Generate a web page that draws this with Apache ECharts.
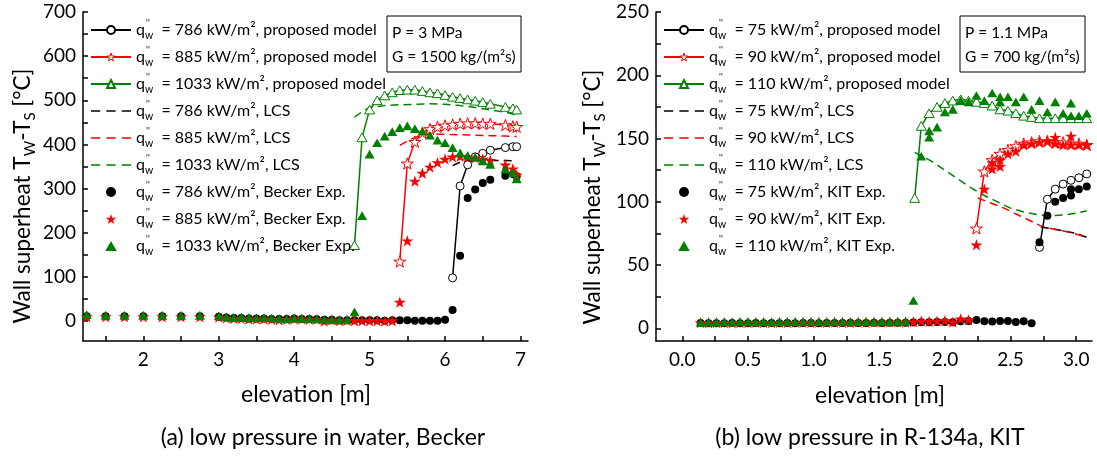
<!DOCTYPE html>
<html><head><meta charset="utf-8">
<script src="https://cdn.jsdelivr.net/npm/echarts@6/dist/echarts.min.js"></script>
<style>html,body{margin:0;padding:0;background:#fff}#c{width:1097px;height:458px}</style>
</head><body><div id="c"></div>
<script>
const FONT = 'Lato';

// ---------- (a) Becker, water, P = 3 MPa ----------
const beckerFlux = ['786', '885', '1033'];
const beckerModelX786 = [6.1, 6.2, 6.3, 6.4, 6.5, 6.6, 6.8, 6.9, 6.95];
const beckerModelY786 = [98, 306, 354, 372, 380, 387, 393, 395, 395];
const beckerModelX885 = [5.4, 5.5, 5.6, 5.7, 5.8, 5.9, 6.0, 6.1, 6.2, 6.3, 6.4, 6.5, 6.6, 6.8, 6.9, 6.95];
const beckerModelY885 = [135, 357, 406, 427, 435, 440, 443, 445, 447, 448, 448, 447, 447, 444, 441, 440];
const beckerModelX1033 = [4.8, 4.9, 5.0, 5.1, 5.2, 5.3, 5.4, 5.5, 5.6, 5.7, 5.8, 5.9, 6.0, 6.1, 6.2, 6.3, 6.4, 6.5, 6.6, 6.8, 6.9, 6.95];
const beckerModelY1033 = [172, 416, 479, 500, 511, 518, 523, 524, 524, 521, 518, 516, 512, 508, 505, 502, 499, 496, 492, 485, 482, 479];

const beckerLcsX786 = [6.1, 6.2, 6.3, 6.4, 6.6, 6.8, 6.95];
const beckerLcsY786 = [352, 360, 363, 364, 364, 364, 363];
const beckerLcsX885 = [5.4, 5.5, 5.6, 5.7, 5.8, 6.0, 6.2, 6.4, 6.6, 6.8, 6.95];
const beckerLcsY885 = [398, 408, 416, 421, 423, 423, 422, 421, 420, 419, 418];
const beckerLcsX1033 = [4.8, 4.9, 5.0, 5.2, 5.4, 5.6, 5.8, 6.0, 6.2, 6.4, 6.6, 6.8, 6.95];
const beckerLcsY1033 = [462, 474, 484, 488, 490, 491, 492, 491, 488, 484, 478, 473, 467];

const beckerExpX = [1.25, 1.5, 1.75, 2.0, 2.25, 2.5, 2.75,
  3.0, 3.1, 3.2, 3.3, 3.4, 3.5, 3.6, 3.7, 3.8, 3.9, 4.0, 4.1, 4.2, 4.3, 4.4, 4.5, 4.6, 4.7,
  4.8, 4.9, 5.0, 5.1, 5.2, 5.3, 5.4, 5.5, 5.6, 5.7, 5.8, 5.9, 6.0, 6.1, 6.2, 6.3, 6.4, 6.5, 6.6,
  6.8, 6.9, 6.95];
const beckerExpY786 = [11, 11, 11, 11, 11, 11, 11,
  10, 8, 7, 7, 6, 6, 6, 5, 5, 5, 6, 5, 5, 4, 3, 3, 2, 2,
  2, 2, 2, 2, 1, 2, 2, 2, 1, 1, 1, 1, 3, 25, 148, 279, 298, 313, 320,
  329, 333, 328];
const beckerExpY885 = [10, 10, 10, 10, 10, 10, 10,
  9, 7, 6, 6, 5, 5, 5, 4, 3, 4, 5, 5, 4, 4, 0, 3, 1, 2,
  1, 1, 1, 1, 0, 1, 43, 182, 317, 335, 349, 359, 367, 372, 373, 372, 370, 367, 364,
  354, 345, 331];
const beckerExpY1033 = [15, 13, 13, 13, 13, 13, 13,
  12, 10, 8, 9, 8, 7, 8, 7, 6, 5, 7, 6, 6, 5, 4, 3, 3, 3,
  21, 239, 378, 404, 419, 429, 438, 442, 436, 430, 421, 410, 404, 393, 381, 375, 371, 363, 355,
  344, 336, 322];

const beckerXTicks = [1.5, 2, 2.5, 3, 3.5, 4, 4.5, 5, 5.5, 6, 6.5, 7];
const beckerXLabels = [2, 3, 4, 5, 6, 7];
const beckerYTicks = [0, 50, 100, 150, 200, 250, 300, 350, 400, 450, 500, 550, 600, 650, 700];
const beckerYLabels = [0, 100, 200, 300, 400, 500, 600, 700];

// ---------- (b) KIT, R-134a, P = 1.1 MPa ----------
const kitFlux = ['75', '90', '110'];
const kitModelX75 = [2.72, 2.78, 2.84, 2.90, 2.96, 3.02, 3.08];
const kitModelY75 = [64, 102, 110, 114, 117, 119, 122];
const kitModelX90 = [2.24, 2.30, 2.36, 2.42, 2.48, 2.54, 2.60, 2.66, 2.72, 2.78, 2.84, 2.90, 2.96, 3.02, 3.08];
const kitModelY90 = [79, 124, 133, 138, 141, 144, 146, 147, 148, 148, 147, 147, 146, 146, 145];
const kitModelX110 = [1.77, 1.82, 1.88, 1.94, 2.00, 2.06, 2.12, 2.18, 2.24, 2.30, 2.36, 2.42, 2.48, 2.54, 2.60, 2.66, 2.72, 2.78, 2.84, 2.90, 2.96, 3.02, 3.08];
const kitModelY110 = [103, 160, 170, 175, 178, 180, 181, 180, 179, 178, 176, 173, 172, 170, 168, 167, 166, 166, 166, 166, 166, 166, 166];

const kitLcsX75 = [2.73, 2.8, 2.9, 3.0, 3.08];
const kitLcsY75 = [80, 79, 77, 75, 72];
const kitLcsX90 = [2.25, 2.35, 2.45, 2.55, 2.65, 2.75, 2.85, 2.95, 3.08];
const kitLcsY90 = [103, 99, 95, 90, 85, 80, 78, 76, 72];
const kitLcsX110 = [1.77, 1.9, 2.0, 2.1, 2.2, 2.3, 2.4, 2.5, 2.6, 2.7, 2.8, 2.9, 3.0, 3.08];
const kitLcsY110 = [139, 132, 125, 118, 111, 105, 100, 95, 92, 90, 89, 89.5, 91, 93];

const kitExpX75 = [0.14, 0.20, 0.26, 0.32, 0.38, 0.44, 0.50, 0.56, 0.62, 0.68, 0.74, 0.80, 0.86, 0.92, 0.98, 1.04, 1.10, 1.16, 1.22, 1.28, 1.34, 1.40, 1.46, 1.52, 1.58, 1.64, 1.70,
  1.76, 1.82, 1.88, 1.94, 2.00, 2.06, 2.12, 2.18, 2.24, 2.30, 2.36, 2.42, 2.48, 2.54, 2.60, 2.66,
  2.72, 2.78, 2.84, 2.90, 2.96, 2.96, 3.02, 3.08];
const kitExpY75 = [4.2, 4.0, 4.1, 4.0, 4.2, 4.1, 4.0, 4.2, 4.1, 4.3, 4.1, 4.2, 4.0, 4.2, 4.3, 4.1, 4.2, 4.3, 4.2, 4.4, 4.3, 4.2, 4.4, 4.3, 4.5, 4.4, 4.5,
  4.6, 4.8, 4.9, 5.0, 5.1, 4.9, 5.6, 5.8, 6.6, 5.6, 5.5, 5.8, 5.8, 5.0, 5.6, 4.0,
  68, 89, 100, 103, 105, 110, 110, 112];
const kitExpX90 = [0.14, 0.20, 0.26, 0.32, 0.38, 0.44, 0.50, 0.56, 0.62, 0.68, 0.74, 0.80, 0.86, 0.92, 0.98, 1.04, 1.10, 1.16, 1.22, 1.28, 1.34, 1.40, 1.46, 1.52, 1.58, 1.64, 1.70,
  1.76, 1.82, 1.88, 1.94, 2.00, 2.06, 2.12, 2.18,
  2.24, 2.30, 2.36, 2.36, 2.42, 2.42, 2.48, 2.54, 2.60, 2.66, 2.72, 2.78, 2.84, 2.84, 2.90, 2.96, 2.96, 3.02, 3.08];
const kitExpY90 = [4.5, 4.4, 4.6, 4.5, 4.4, 4.6, 4.5, 4.7, 4.6, 4.5, 4.7, 4.6, 4.8, 4.7, 4.6, 4.8, 4.7, 4.9, 4.8, 4.7, 4.9, 4.8, 5.0, 4.9, 5.0, 5.1, 5.0,
  5.2, 5.8, 5.5, 5.8, 6.2, 5.0, 7.5, 6.8,
  66, 110, 126, 131, 128, 133, 138, 140, 145, 146, 147, 148, 151, 146, 145, 152, 145, 145, 145];
const kitExpX110 = [0.14, 0.20, 0.26, 0.32, 0.38, 0.44, 0.50, 0.56, 0.62, 0.68, 0.74, 0.80, 0.86, 0.92, 0.98, 1.04, 1.10, 1.16, 1.22, 1.28, 1.34, 1.40, 1.46, 1.52, 1.58, 1.64, 1.70,
  1.76, 1.82, 1.88, 1.88, 1.94, 2.00, 2.06, 2.12, 2.18, 2.24, 2.30, 2.36, 2.42, 2.42, 2.48, 2.54, 2.60, 2.66, 2.72, 2.78, 2.84, 2.90, 2.96, 2.96, 3.02, 3.08];
const kitExpY110 = [4.6, 4.9, 4.8, 5.0, 4.9, 5.0, 5.1, 4.9, 5.0, 5.0, 5.1, 5.2, 5.0, 5.1, 5.2, 5.1, 5.0, 5.2, 5.3, 5.1, 5.2, 5.3, 5.2, 5.4, 5.3, 5.4, 5.6,
  22, 136, 151, 156, 159, 171, 173, 180, 179, 184, 180, 186, 183, 179, 183, 179, 183, 173, 180, 171, 179, 170, 178, 168, 168, 170];

const kitXTicks = [0, 0.25, 0.5, 0.75, 1, 1.25, 1.5, 1.75, 2, 2.25, 2.5, 2.75, 3];
const kitXLabels = [0, 0.5, 1, 1.5, 2, 2.5, 3];
const kitYTicks = [0, 25, 50, 75, 100, 125, 150, 175, 200, 225, 250];
const kitYLabels = [0, 50, 100, 150, 200, 250];

// ---------- styling helpers ----------
const BLACK = '#000000', RED = '#ff0000', GREEN = '#008000';
const COLORS = [BLACK, RED, GREEN];
const STAR = 'path://M0,-1L0.2245,-0.309L0.951,-0.309L0.363,0.118L0.588,0.809L0,0.382L-0.588,0.809L-0.363,0.118L-0.951,-0.309L-0.2245,-0.309Z';
const TRI = 'path://M5,0L10,8.66L0,8.66Z';
const DASH = 'path://M0,0L9,0L9,1.5L0,1.5Z M15,0L24,0L24,1.5L15,1.5Z M30,0L39,0L39,1.5L30,1.5Z';
const SYMBOLS = ['circle', STAR, TRI];
const SIZES = [8, 12, 10];
const zip = (xs, ys) => xs.map((x, i) => [x, ys[i]]);

function modelSeries(name, xs, ys, k, idx) {
  return {
    type: 'line', name, xAxisIndex: idx, yAxisIndex: idx, data: zip(xs, ys),
    symbol: SYMBOLS[k], symbolSize: SIZES[k], symbolKeepAspect: true, showAllSymbol: true,
    lineStyle: { color: COLORS[k], width: 1.5 },
    itemStyle: { color: '#ffffff', borderColor: COLORS[k], borderWidth: 1, opacity: 1 },
    emphasis: { disabled: true }, z: 3
  };
}
function lcsSeries(name, xs, ys, k, idx) {
  return {
    type: 'line', name, xAxisIndex: idx, yAxisIndex: idx, data: zip(xs, ys),
    symbol: 'none', lineStyle: { color: COLORS[k], width: 1.5, type: [8, 5] },
    itemStyle: { color: COLORS[k] }, emphasis: { disabled: true }, z: 2
  };
}
function expSeries(name, xs, ys, k, idx) {
  return {
    type: 'scatter', name, xAxisIndex: idx, yAxisIndex: idx, data: zip(xs, ys),
    symbol: SYMBOLS[k], symbolSize: SIZES[k], symbolKeepAspect: true,
    itemStyle: { color: COLORS[k], opacity: 1 }, emphasis: { disabled: true }, z: 4
  };
}

const leftModelNames = beckerFlux.map(f => f + ' kW/m², proposed model');
const leftLcsNames = beckerFlux.map(f => f + ' kW/m², LCS');
const leftExpNames = beckerFlux.map(f => f + ' kW/m², Becker Exp.');
const rightModelNames = kitFlux.map(f => f + ' kW/m², proposed model');
const rightLcsNames = kitFlux.map(f => f + ' kW/m², LCS');
const rightExpNames = kitFlux.map(f => f + ' kW/m², KIT Exp.');

const series = [
  modelSeries(leftModelNames[0], beckerModelX786, beckerModelY786, 0, 0),
  modelSeries(leftModelNames[1], beckerModelX885, beckerModelY885, 1, 0),
  modelSeries(leftModelNames[2], beckerModelX1033, beckerModelY1033, 2, 0),
  lcsSeries(leftLcsNames[0], beckerLcsX786, beckerLcsY786, 0, 0),
  lcsSeries(leftLcsNames[1], beckerLcsX885, beckerLcsY885, 1, 0),
  lcsSeries(leftLcsNames[2], beckerLcsX1033, beckerLcsY1033, 2, 0),
  expSeries(leftExpNames[0], beckerExpX, beckerExpY786, 0, 0),
  expSeries(leftExpNames[1], beckerExpX, beckerExpY885, 1, 0),
  expSeries(leftExpNames[2], beckerExpX, beckerExpY1033, 2, 0),
  modelSeries(rightModelNames[0], kitModelX75, kitModelY75, 0, 1),
  modelSeries(rightModelNames[1], kitModelX90, kitModelY90, 1, 1),
  modelSeries(rightModelNames[2], kitModelX110, kitModelY110, 2, 1),
  lcsSeries(rightLcsNames[0], kitLcsX75, kitLcsY75, 0, 1),
  lcsSeries(rightLcsNames[1], kitLcsX90, kitLcsY90, 1, 1),
  lcsSeries(rightLcsNames[2], kitLcsX110, kitLcsY110, 2, 1),
  expSeries(rightExpNames[0], kitExpX75, kitExpY75, 0, 1),
  expSeries(rightExpNames[1], kitExpX90, kitExpY90, 1, 1),
  expSeries(rightExpNames[2], kitExpX110, kitExpY110, 2, 1)
];

const legendRich = {
  q: { fontFamily: FONT, fontSize: 16, lineHeight: 22, color: '#000' },
  pp: { fontFamily: FONT, fontSize: 9, lineHeight: 8, width: 0, verticalAlign: 'top', color: '#000' },
  w: { fontFamily: FONT, fontSize: 10.5, lineHeight: 10, verticalAlign: 'bottom', color: '#000' },
  t: { fontFamily: FONT, fontSize: 16, lineHeight: 22, color: '#000' }
};
function legendData(modelNames, lcsNames, expNames) {
  const out = [];
  modelNames.forEach((n, k) => out.push(k === 1
    ? { name: n, itemStyle: { color: '#ffffff', borderColor: COLORS[k], borderWidth: 1 } }
    : { name: n }));
  lcsNames.forEach((n, k) => out.push({ name: n, icon: DASH, itemStyle: { color: COLORS[k], borderWidth: 0 } }));
  expNames.forEach((n, k) => out.push({ name: n, icon: SYMBOLS[k] }));
  return out;
}
function legendCfg(data, left) {
  return {
    data, orient: 'vertical', left: left, top: 14, itemGap: 5,
    itemWidth: 40, itemHeight: 10, selectedMode: false, symbolKeepAspect: true,
    formatter: n => '{q|q}{pp|\u2009\'\'}{w|w}{t|  = ' + n + '}',
    textStyle: { fontFamily: FONT, fontSize: 16, color: '#000', rich: legendRich }
  };
}

const axisLineStyle = { color: '#000', width: 1.5 };
function xAxisCfg(idx, min, max, ticks, labels, fmt) {
  return {
    gridIndex: idx, type: 'value', min, max,
    axisLine: { show: true, onZero: false, lineStyle: axisLineStyle },
    axisTick: { show: true, inside: true, length: 5, customValues: ticks, lineStyle: axisLineStyle },
    axisLabel: { customValues: labels, fontFamily: FONT, fontSize: 19, color: '#000', margin: 9, formatter: fmt },
    splitLine: { show: false }
  };
}
function yAxisCfg(idx, min, max, ticks, labels) {
  return {
    gridIndex: idx, type: 'value', min, max,
    axisLine: { show: true, onZero: false, lineStyle: axisLineStyle },
    axisTick: { show: true, inside: true, length: 5, customValues: ticks, lineStyle: axisLineStyle },
    axisLabel: { customValues: labels, fontFamily: FONT, fontSize: 19, color: '#000', margin: 7 },
    splitLine: { show: false }
  };
}

const titleRich = {
  a: { fontFamily: FONT, fontSize: 22.5, lineHeight: 29, fill: '#000', color: '#000' },
  s: { fontFamily: FONT, fontSize: 15, lineHeight: 15, verticalAlign: 'bottom', fill: '#000', color: '#000' }
};
const yTitle = '{a|Wall superheat T}{s|W}{a|-T}{s|S}{a| [°C]}';
function txt(x, y, text, size, align) {
  return { type: 'text', x, y, z: 10, silent: true,
    style: { text, fontFamily: FONT, fontSize: size, fill: '#000', align: align || 'center', verticalAlign: 'middle' } };
}

const option = {
  animation: false,
  backgroundColor: '#ffffff',
  grid: [
    { left: 83, right: 569, top: 12, bottom: 117 },
    { left: 656, right: 5, top: 12, bottom: 117 }
  ],
  xAxis: [
    xAxisCfg(0, 1.2, 7.1, beckerXTicks, beckerXLabels, v => String(v)),
    xAxisCfg(1, -0.2, 3.12, kitXTicks, kitXLabels, v => v.toFixed(1))
  ],
  yAxis: [
    yAxisCfg(0, -45, 700, beckerYTicks, beckerYLabels),
    yAxisCfg(1, -10, 250, kitYTicks, kitYLabels)
  ],
  legend: [legendCfg(legendData(leftModelNames, leftLcsNames, leftExpNames), 85),
           legendCfg(legendData(rightModelNames, rightLcsNames, rightExpNames), 658)],
  series,
  graphic: [
    { type: 'rect', shape: { x: 387, y: 16, width: 134, height: 56 }, style: { fill: '#fff', stroke: '#000', lineWidth: 1 }, z: 9, silent: true },
    txt(392, 33, 'P = 3 MPa', 15.5, 'left'),
    txt(392, 57, 'G = 1500 kg/(m²s)', 15.5, 'left'),
    { type: 'rect', shape: { x: 960, y: 16, width: 125, height: 56 }, style: { fill: '#fff', stroke: '#000', lineWidth: 1 }, z: 9, silent: true },
    txt(965, 33, 'P = 1.1 MPa', 15.5, 'left'),
    txt(965, 57, 'G = 700 kg/(m²s)', 15.5, 'left'),
    txt(306, 395, 'elevation [m]', 23),
    txt(880, 396, 'elevation [m]', 23),
    txt(323, 438, '(a) low pressure in water, Becker', 23),
    txt(870, 438, '(b) low pressure in R-134a, KIT', 23),
    { type: 'text', x: 23, y: 196, rotation: Math.PI / 2, z: 10, silent: true,
      style: { text: yTitle, rich: titleRich, fontFamily: FONT, fontSize: 22.5, fill: '#000', align: 'center', verticalAlign: 'middle' } },
    { type: 'text', x: 593, y: 197, rotation: Math.PI / 2, z: 10, silent: true,
      style: { text: yTitle, rich: titleRich, fontFamily: FONT, fontSize: 22.5, fill: '#000', align: 'center', verticalAlign: 'middle' } }
  ]
};

const chart = echarts.init(document.getElementById('c'));
chart.setOption(option);
</script></body></html>
